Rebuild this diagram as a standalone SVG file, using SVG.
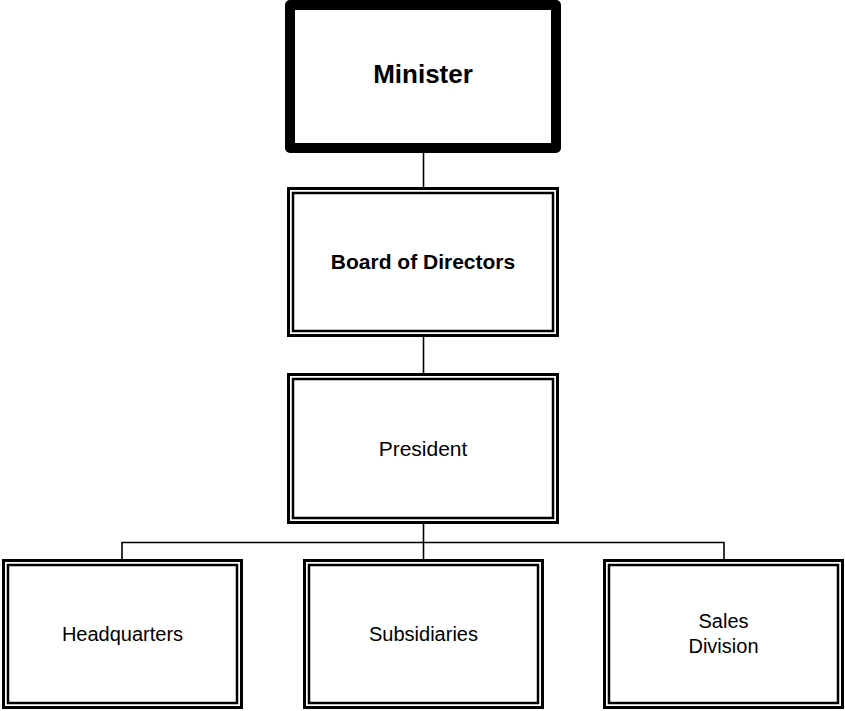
<svg xmlns="http://www.w3.org/2000/svg" width="845" height="711" viewBox="0 0 845 711">
<style>
.o{fill:#fff;stroke:#000;stroke-width:3}
.i{fill:none;stroke:#000;stroke-width:2.5}
.thick{fill:#fff;stroke:#000;stroke-width:10;stroke-linejoin:round}
.c{fill:none;stroke:#000;stroke-width:1.6}
text{font-family:"Liberation Sans",Arial,sans-serif;fill:#000;text-anchor:middle}
.b{font-weight:bold}
</style>
<rect width="845" height="711" fill="#fff"/>
<g id="connectors">
<line class="c" x1="423.5" y1="150" x2="423.5" y2="188"/>
<line class="c" x1="423.5" y1="336" x2="423.5" y2="374"/>
<line class="c" x1="423.5" y1="523" x2="423.5" y2="560"/>
<polyline class="c" points="122,560 122,542.5 724,542.5 724,560"/>
</g>
<g id="minister">
<rect class="thick" x="290" y="5" width="266" height="143"/>
<text class="b" x="423" y="83" font-size="26">Minister</text>
</g>
<g id="board">
<rect class="o" x="288.5" y="188.5" width="269" height="147"/>
<rect class="i" x="293" y="193" width="260" height="138"/>
<text class="b" x="423" y="269" font-size="21">Board of Directors</text>
</g>
<g id="president">
<rect class="o" x="288.5" y="374.5" width="269" height="148"/>
<rect class="i" x="293" y="379" width="260" height="139"/>
<text x="423" y="456" font-size="21">President</text>
</g>
<g id="headquarters">
<rect class="o" x="3.5" y="560.5" width="238" height="147"/>
<rect class="i" x="8" y="565" width="229" height="138"/>
<text x="122.5" y="641" font-size="20">Headquarters</text>
</g>
<g id="subsidiaries">
<rect class="o" x="304.5" y="560.5" width="238" height="147"/>
<rect class="i" x="309" y="565" width="229" height="138"/>
<text x="423.5" y="641" font-size="20">Subsidiaries</text>
</g>
<g id="sales">
<rect class="o" x="604.5" y="560.5" width="238" height="147"/>
<rect class="i" x="609" y="565" width="229" height="138"/>
<text x="723.5" y="628" font-size="20">Sales</text>
<text x="723.5" y="652.5" font-size="20">Division</text>
</g>
</svg>
